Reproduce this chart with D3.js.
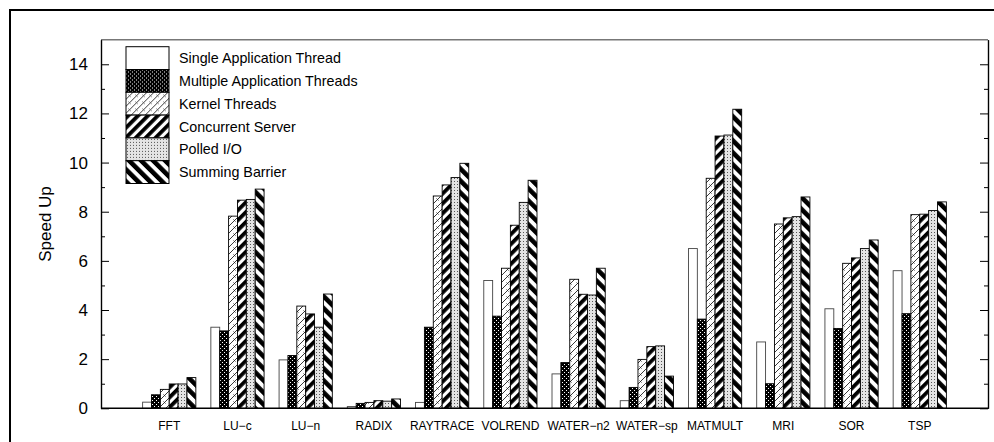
<!DOCTYPE html>
<html>
<head>
<meta charset="utf-8">
<script src="https://cdn.jsdelivr.net/npm/d3@7"></script>
<style>
  body { margin: 0; background: #fff; overflow: hidden; }
  svg { font-family: "Liberation Sans", Arial, sans-serif; }
</style>
</head>
<body>
<svg id="chart" width="994" height="442"></svg>
<script>
const categories = ["FFT", "LU\u2212c", "LU\u2212n", "RADIX", "RAYTRACE", "VOLREND",
    "WATER\u2212n2", "WATER\u2212sp", "MATMULT", "MRI", "SOR", "TSP"]

const seriesNames = ["Single Application Thread", "Multiple Application Threads", "Kernel Threads",
    "Concurrent Server", "Polled I/O", "Summing Barrier"]

// one array per series, same order as categories
const singleApp   = [0.25, 3.30, 1.97, 0.07, 0.24, 5.20, 1.40, 0.31, 6.50, 2.70, 4.05, 5.60]
const multiApp    = [0.55, 3.15, 2.15, 0.20, 3.30, 3.75, 1.86, 0.85, 3.63, 1.00, 3.25, 3.85]
const kernel      = [0.77, 7.82, 4.16, 0.24, 8.64, 5.70, 5.25, 1.99, 9.36, 7.50, 5.90, 7.88]
const concurrent  = [0.99, 8.47, 3.84, 0.31, 9.09, 7.45, 4.64, 2.51, 11.08, 7.75, 6.12, 7.90]
const polled      = [0.99, 8.50, 3.30, 0.29, 9.39, 8.38, 4.61, 2.54, 11.12, 7.80, 6.50, 8.05]
const summing     = [1.25, 8.92, 4.65, 0.38, 9.97, 9.28, 5.70, 1.31, 12.17, 8.60, 6.85, 8.40]

const series = [singleApp, multiApp, kernel, concurrent, polled, summing]

const yMajor = [0, 2, 4, 6, 8, 10, 12, 14]
const yMinor = [1, 3, 5, 7, 9, 11, 13]

const CONF = {
    left: 101, right: 988, top: 39.7, bottom: 408.3,
    barW: 0.13,
}

let svg = d3.select("svg#chart")

let x = d3.scaleLinear().domain([0, categories.length + 1]).range([CONF.left, CONF.right])
let y = d3.scaleLinear().domain([0, 15]).range([CONF.bottom, CONF.top])

// fill patterns
let defs = svg.append("defs")

let pMulti = defs.append("pattern").attr("id", "p1").attr("patternUnits", "userSpaceOnUse")
    .attr("width", 4).attr("height", 4)
pMulti.append("rect").attr("width", 4).attr("height", 4).attr("fill", "#000")
pMulti.append("rect").attr("x", 0).attr("y", 0).attr("width", 1).attr("height", 1).attr("fill", "#fff")
pMulti.append("rect").attr("x", 2).attr("y", 2).attr("width", 1).attr("height", 1).attr("fill", "#fff")

let pKern = defs.append("pattern").attr("id", "p2").attr("patternUnits", "userSpaceOnUse")
    .attr("width", 7).attr("height", 7)
pKern.append("rect").attr("width", 7).attr("height", 7).attr("fill", "#fff")
pKern.append("path").attr("d", "M0,7L7,0M-1,1L1,-1M6,8L8,6M2.5,2.5L4.5,4.5")
    .attr("stroke", "#222").attr("stroke-width", 0.9).attr("fill", "none")

let pConc = defs.append("pattern").attr("id", "p3").attr("patternUnits", "userSpaceOnUse")
    .attr("width", 7).attr("height", 7).attr("patternTransform", "rotate(45)")
pConc.append("rect").attr("width", 7).attr("height", 7).attr("fill", "#fff")
pConc.append("rect").attr("width", 3.8).attr("height", 7).attr("fill", "#000")

let pPoll = defs.append("pattern").attr("id", "p4").attr("patternUnits", "userSpaceOnUse")
    .attr("width", 3).attr("height", 3)
pPoll.append("rect").attr("width", 3).attr("height", 3).attr("fill", "#e4e4e4")
pPoll.append("rect").attr("x", 1).attr("y", 1).attr("width", 1).attr("height", 1).attr("fill", "#555")

let pSum = defs.append("pattern").attr("id", "p5").attr("patternUnits", "userSpaceOnUse")
    .attr("width", 8.5).attr("height", 8.5).attr("patternTransform", "rotate(-45)")
pSum.append("rect").attr("width", 8.5).attr("height", 8.5).attr("fill", "#fff")
pSum.append("rect").attr("width", 4.6).attr("height", 8.5).attr("fill", "#000")

const fills = ["#fff", "url(#p1)", "url(#p2)", "url(#p3)", "url(#p4)", "url(#p5)"]

// outer frame (right and bottom edges fall outside the picture)
svg.append("rect").attr("x", 10).attr("y", 10).attr("width", 1000).attr("height", 460)
    .attr("fill", "none").attr("stroke", "#000").attr("stroke-width", 2)

// bars
let bw = x(CONF.barW) - x(0)
for (let s in series) {
    svg.append("g").selectAll("rect")
        .data(series[s])
        .enter()
        .append("rect")
        .attr("x", (d, i) => x(i + 1 + (s - 3) * CONF.barW))
        .attr("y", d => y(d))
        .attr("width", bw)
        .attr("height", d => y(0) - y(d))
        .attr("fill", fills[s])
        .attr("stroke", s == 0 ? "#444" : "#000")
        .attr("stroke-width", 0.9)
}

// plot frame
svg.append("line").attr("x1", CONF.left).attr("x2", CONF.right).attr("y1", CONF.top).attr("y2", CONF.top)
    .attr("stroke", "#777").attr("stroke-width", 1.5)
svg.append("line").attr("x1", CONF.left).attr("x2", CONF.right).attr("y1", CONF.bottom).attr("y2", CONF.bottom)
    .attr("stroke", "#000").attr("stroke-width", 1.5)

let axL = svg.append("g").attr("transform", `translate(${CONF.left},0)`)
    .call(d3.axisLeft(y).tickValues(yMajor).tickSize(-8).tickSizeOuter(0).tickPadding(13))
let axLm = svg.append("g").attr("transform", `translate(${CONF.left},0)`)
    .call(d3.axisLeft(y).tickValues(yMinor).tickSize(-4).tickSizeOuter(0).tickFormat(""))
let axR = svg.append("g").attr("transform", `translate(${CONF.right},0)`)
    .call(d3.axisRight(y).tickValues(yMajor).tickSize(-8).tickSizeOuter(0).tickFormat(""))
let axRm = svg.append("g").attr("transform", `translate(${CONF.right},0)`)
    .call(d3.axisRight(y).tickValues(yMinor).tickSize(-4).tickSizeOuter(0).tickFormat(""))

svg.selectAll(".domain").attr("stroke", "#000").attr("stroke-width", 1.2)
svg.selectAll(".tick line").attr("stroke", "#000")
axL.selectAll("text").attr("font-size", 17).attr("font-family", "Liberation Sans, Arial, sans-serif")
    .attr("fill", "#000")

svg.append("text")
    .attr("transform", `translate(51,${y(7.5)}) rotate(-90)`)
    .attr("text-anchor", "middle")
    .attr("font-size", 17)
    .text("Speed Up")

// category labels
svg.append("g").selectAll("text")
    .data(categories)
    .enter()
    .append("text")
    .attr("x", (d, i) => x(i + 1))
    .attr("y", 430)
    .attr("text-anchor", "middle")
    .attr("font-size", 12)
    .text(d => d)

// legend
let legend = svg.append("g").selectAll("g")
    .data(seriesNames)
    .enter()
    .append("g")
    .attr("transform", (d, i) => `translate(126,${46.7 + i * 22.8})`)
legend.append("rect")
    .attr("width", 43).attr("height", 22.8)
    .attr("fill", (d, i) => fills[i])
    .attr("stroke", "#000").attr("stroke-width", 1)
legend.append("text")
    .attr("x", 53).attr("y", 16.5)
    .attr("font-size", 14.3)
    .text(d => d)
</script>
</body>
</html>
